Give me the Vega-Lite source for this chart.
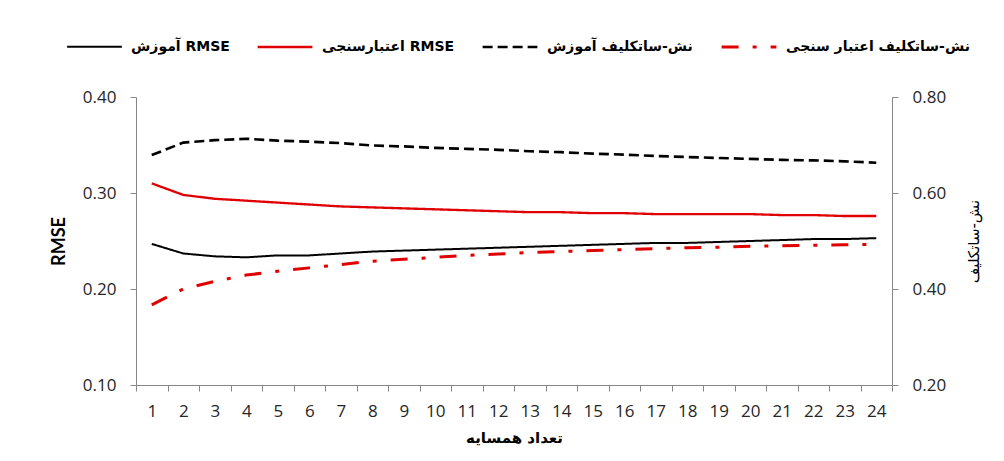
{
  "$schema": "https://vega.github.io/schema/vega-lite/v6.json",
  "width": 756,
  "height": 288,
  "autosize": {"type": "none"},
  "padding": {"left": 136, "top": 97, "right": 112, "bottom": 76},
  "background": "white",
  "config": {
    "view": {"stroke": null},
    "font": "Lato",
    "axis": {
      "domainColor": "#868686",
      "tickColor": "#868686",
      "grid": false,
      "labelFont": "Open Sans",
      "labelFontSize": 17,
      "labelColor": "#262626",
      "titleColor": "#000000"
    }
  },
  "data": {
    "values": [
      {"n": 1, "s": "آموزش RMSE", "v": 0.247},
      {"n": 2, "s": "آموزش RMSE", "v": 0.237},
      {"n": 3, "s": "آموزش RMSE", "v": 0.234},
      {"n": 4, "s": "آموزش RMSE", "v": 0.233},
      {"n": 5, "s": "آموزش RMSE", "v": 0.235},
      {"n": 6, "s": "آموزش RMSE", "v": 0.235},
      {"n": 7, "s": "آموزش RMSE", "v": 0.237},
      {"n": 8, "s": "آموزش RMSE", "v": 0.239},
      {"n": 9, "s": "آموزش RMSE", "v": 0.240},
      {"n": 10, "s": "آموزش RMSE", "v": 0.241},
      {"n": 11, "s": "آموزش RMSE", "v": 0.242},
      {"n": 12, "s": "آموزش RMSE", "v": 0.243},
      {"n": 13, "s": "آموزش RMSE", "v": 0.244},
      {"n": 14, "s": "آموزش RMSE", "v": 0.245},
      {"n": 15, "s": "آموزش RMSE", "v": 0.246},
      {"n": 16, "s": "آموزش RMSE", "v": 0.247},
      {"n": 17, "s": "آموزش RMSE", "v": 0.248},
      {"n": 18, "s": "آموزش RMSE", "v": 0.248},
      {"n": 19, "s": "آموزش RMSE", "v": 0.249},
      {"n": 20, "s": "آموزش RMSE", "v": 0.250},
      {"n": 21, "s": "آموزش RMSE", "v": 0.251},
      {"n": 22, "s": "آموزش RMSE", "v": 0.252},
      {"n": 23, "s": "آموزش RMSE", "v": 0.252},
      {"n": 24, "s": "آموزش RMSE", "v": 0.253},
      {"n": 1, "s": "اعتبارسنجی RMSE", "v": 0.310},
      {"n": 2, "s": "اعتبارسنجی RMSE", "v": 0.298},
      {"n": 3, "s": "اعتبارسنجی RMSE", "v": 0.294},
      {"n": 4, "s": "اعتبارسنجی RMSE", "v": 0.292},
      {"n": 5, "s": "اعتبارسنجی RMSE", "v": 0.290},
      {"n": 6, "s": "اعتبارسنجی RMSE", "v": 0.288},
      {"n": 7, "s": "اعتبارسنجی RMSE", "v": 0.286},
      {"n": 8, "s": "اعتبارسنجی RMSE", "v": 0.285},
      {"n": 9, "s": "اعتبارسنجی RMSE", "v": 0.284},
      {"n": 10, "s": "اعتبارسنجی RMSE", "v": 0.283},
      {"n": 11, "s": "اعتبارسنجی RMSE", "v": 0.282},
      {"n": 12, "s": "اعتبارسنجی RMSE", "v": 0.281},
      {"n": 13, "s": "اعتبارسنجی RMSE", "v": 0.280},
      {"n": 14, "s": "اعتبارسنجی RMSE", "v": 0.280},
      {"n": 15, "s": "اعتبارسنجی RMSE", "v": 0.279},
      {"n": 16, "s": "اعتبارسنجی RMSE", "v": 0.279},
      {"n": 17, "s": "اعتبارسنجی RMSE", "v": 0.278},
      {"n": 18, "s": "اعتبارسنجی RMSE", "v": 0.278},
      {"n": 19, "s": "اعتبارسنجی RMSE", "v": 0.278},
      {"n": 20, "s": "اعتبارسنجی RMSE", "v": 0.278},
      {"n": 21, "s": "اعتبارسنجی RMSE", "v": 0.277},
      {"n": 22, "s": "اعتبارسنجی RMSE", "v": 0.277},
      {"n": 23, "s": "اعتبارسنجی RMSE", "v": 0.276},
      {"n": 24, "s": "اعتبارسنجی RMSE", "v": 0.276},
      {"n": 1, "s": "نش-ساتکلیف آموزش", "v": 0.679},
      {"n": 2, "s": "نش-ساتکلیف آموزش", "v": 0.705},
      {"n": 3, "s": "نش-ساتکلیف آموزش", "v": 0.710},
      {"n": 4, "s": "نش-ساتکلیف آموزش", "v": 0.713},
      {"n": 5, "s": "نش-ساتکلیف آموزش", "v": 0.709},
      {"n": 6, "s": "نش-ساتکلیف آموزش", "v": 0.707},
      {"n": 7, "s": "نش-ساتکلیف آموزش", "v": 0.704},
      {"n": 8, "s": "نش-ساتکلیف آموزش", "v": 0.699},
      {"n": 9, "s": "نش-ساتکلیف آموزش", "v": 0.697},
      {"n": 10, "s": "نش-ساتکلیف آموزش", "v": 0.694},
      {"n": 11, "s": "نش-ساتکلیف آموزش", "v": 0.692},
      {"n": 12, "s": "نش-ساتکلیف آموزش", "v": 0.690},
      {"n": 13, "s": "نش-ساتکلیف آموزش", "v": 0.687},
      {"n": 14, "s": "نش-ساتکلیف آموزش", "v": 0.685},
      {"n": 15, "s": "نش-ساتکلیف آموزش", "v": 0.682},
      {"n": 16, "s": "نش-ساتکلیف آموزش", "v": 0.680},
      {"n": 17, "s": "نش-ساتکلیف آموزش", "v": 0.677},
      {"n": 18, "s": "نش-ساتکلیف آموزش", "v": 0.675},
      {"n": 19, "s": "نش-ساتکلیف آموزش", "v": 0.673},
      {"n": 20, "s": "نش-ساتکلیف آموزش", "v": 0.671},
      {"n": 21, "s": "نش-ساتکلیف آموزش", "v": 0.669},
      {"n": 22, "s": "نش-ساتکلیف آموزش", "v": 0.668},
      {"n": 23, "s": "نش-ساتکلیف آموزش", "v": 0.666},
      {"n": 24, "s": "نش-ساتکلیف آموزش", "v": 0.663},
      {"n": 1, "s": "نش-ساتکلیف اعتبار سنجی", "v": 0.367},
      {"n": 2, "s": "نش-ساتکلیف اعتبار سنجی", "v": 0.400},
      {"n": 3, "s": "نش-ساتکلیف اعتبار سنجی", "v": 0.416},
      {"n": 4, "s": "نش-ساتکلیف اعتبار سنجی", "v": 0.429},
      {"n": 5, "s": "نش-ساتکلیف اعتبار سنجی", "v": 0.437},
      {"n": 6, "s": "نش-ساتکلیف اعتبار سنجی", "v": 0.444},
      {"n": 7, "s": "نش-ساتکلیف اعتبار سنجی", "v": 0.451},
      {"n": 8, "s": "نش-ساتکلیف اعتبار سنجی", "v": 0.458},
      {"n": 9, "s": "نش-ساتکلیف اعتبار سنجی", "v": 0.462},
      {"n": 10, "s": "نش-ساتکلیف اعتبار سنجی", "v": 0.466},
      {"n": 11, "s": "نش-ساتکلیف اعتبار سنجی", "v": 0.470},
      {"n": 12, "s": "نش-ساتکلیف اعتبار سنجی", "v": 0.473},
      {"n": 13, "s": "نش-ساتکلیف اعتبار سنجی", "v": 0.476},
      {"n": 14, "s": "نش-ساتکلیف اعتبار سنجی", "v": 0.478},
      {"n": 15, "s": "نش-ساتکلیف اعتبار سنجی", "v": 0.480},
      {"n": 16, "s": "نش-ساتکلیف اعتبار سنجی", "v": 0.482},
      {"n": 17, "s": "نش-ساتکلیف اعتبار سنجی", "v": 0.484},
      {"n": 18, "s": "نش-ساتکلیف اعتبار سنجی", "v": 0.486},
      {"n": 19, "s": "نش-ساتکلیف اعتبار سنجی", "v": 0.487},
      {"n": 20, "s": "نش-ساتکلیف اعتبار سنجی", "v": 0.489},
      {"n": 21, "s": "نش-ساتکلیف اعتبار سنجی", "v": 0.490},
      {"n": 22, "s": "نش-ساتکلیف اعتبار سنجی", "v": 0.491},
      {"n": 23, "s": "نش-ساتکلیف اعتبار سنجی", "v": 0.492},
      {"n": 24, "s": "نش-ساتکلیف اعتبار سنجی", "v": 0.493}
    ]
  },
  "encoding": {
    "x": {
      "field": "n",
      "type": "ordinal",
      "bandPosition": 0.5,
      "scale": {"type": "band", "paddingInner": 0, "paddingOuter": 0},
      "axis": {
        "title": "تعداد همسایه",
        "titleFont": "DejaVu Sans",
        "titleFontSize": 15,
        "titleFontWeight": "bold",
        "titlePadding": 11,
        "labelAngle": 0,
        "tickBand": "extent",
        "tickSize": 6,
        "labelPadding": 12
      }
    },
    "color": {
      "field": "s",
      "type": "nominal",
      "scale": {
        "domain": ["آموزش RMSE", "اعتبارسنجی RMSE", "نش-ساتکلیف آموزش", "نش-ساتکلیف اعتبار سنجی"],
        "range": ["#000000", "#e00000", "#000000", "#e00000"]
      },
      "legend": {
        "orient": "none",
        "legendX": -70,
        "legendY": -79,
        "direction": "horizontal",
        "title": null,
        "symbolType": "stroke",
        "symbolSize": 3000,
        "symbolStrokeWidth": 3,
        "labelFont": "DejaVu Sans",
        "labelFontSize": 14,
        "labelFontWeight": "bold",
        "labelColor": "#000000",
        "labelOffset": 8,
        "columnPadding": 22,
        "labelLimit": 400
      }
    },
    "strokeDash": {
      "field": "s",
      "type": "nominal",
      "scale": {
        "domain": ["آموزش RMSE", "اعتبارسنجی RMSE", "نش-ساتکلیف آموزش", "نش-ساتکلیف اعتبار سنجی"],
        "range": [[1, 0], [1, 0], [10, 5], [17, 14, 4, 14]]
      }
    },
    "strokeWidth": {
      "field": "s",
      "type": "nominal",
      "legend": null,
      "scale": {
        "domain": ["آموزش RMSE", "اعتبارسنجی RMSE", "نش-ساتکلیف آموزش", "نش-ساتکلیف اعتبار سنجی"],
        "range": [2, 3, 3, 4]
      }
    }
  },
  "layer": [
    {
      "transform": [{"filter": {"field": "s", "oneOf": ["آموزش RMSE", "اعتبارسنجی RMSE"]}}],
      "mark": {"type": "line"},
      "encoding": {
        "y": {
          "field": "v",
          "type": "quantitative",
          "scale": {"domain": [0.1, 0.4], "nice": false, "zero": false},
          "axis": {
            "orient": "left",
            "title": "RMSE",
            "titleFont": "Lato",
            "titleFontSize": 18,
            "titleFontWeight": "bold",
            "titlePadding": 14,
            "values": [0.1, 0.2, 0.3, 0.4],
            "format": ".2f",
            "tickSize": 6,
            "labelPadding": 14
          }
        }
      }
    },
    {
      "transform": [{"filter": {"field": "s", "oneOf": ["نش-ساتکلیف آموزش", "نش-ساتکلیف اعتبار سنجی"]}}],
      "mark": {"type": "line"},
      "encoding": {
        "y": {
          "field": "v",
          "type": "quantitative",
          "scale": {"domain": [0.2, 0.8], "nice": false, "zero": false},
          "axis": {
            "orient": "right",
            "title": "نش-ساتکلیف",
            "titleFont": "DejaVu Sans",
            "titleFontSize": 15,
            "titleFontWeight": "normal",
            "titleAngle": -90,
            "titlePadding": 36,
            "values": [0.2, 0.4, 0.6, 0.8],
            "format": ".2f",
            "tickSize": 6,
            "labelPadding": 14
          }
        }
      }
    }
  ],
  "resolve": {"scale": {"y": "independent"}}
}
